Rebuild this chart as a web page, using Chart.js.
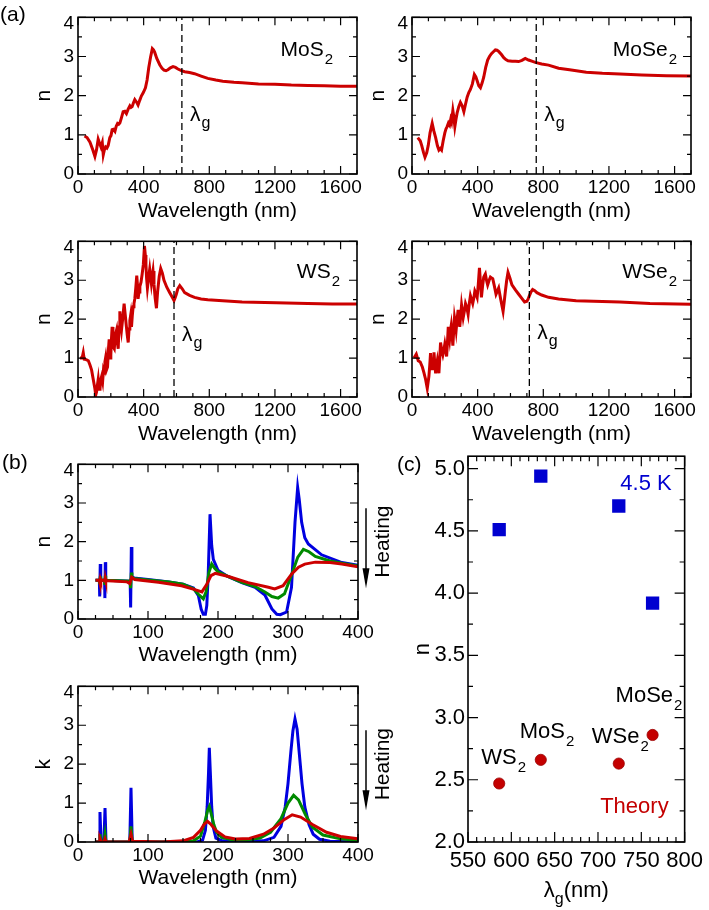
<!DOCTYPE html>
<html><head><meta charset="utf-8">
<script src="https://cdn.jsdelivr.net/npm/chart.js@4/dist/chart.umd.min.js"></script>
<style>
html,body{margin:0;padding:0;background:#fff;}
body{width:709px;height:910px;position:relative;overflow:hidden;font-family:"Liberation Sans",Arial,Helvetica,sans-serif;}
canvas{position:absolute;}
.plabel{position:absolute;font-size:21px;line-height:21px;color:#000;z-index:5;}
</style></head><body>
<div class="plabel" style="left:0px;top:3px">(a)</div>
<div class="plabel" style="left:2px;top:451px">(b)</div>
<div class="plabel" style="left:397px;top:453px">(c)</div>
<script>
// ================= DATA =================
// (a) refractive index n vs wavelength (nm)
const MOS2_WL = [40,55,73,90,103,113,123,132,140,148,154,161,168,176,184,194,201,208,216,225,233,241,248,255,265,275,285,295,305,316,323,330,338,346,356,366,376,386,398,411,421,431,442,453,460,467,480,498,512,524,536,548,563,579,594,609,630,650,680,710,750,791,840,882,950,1000,1100,1200,1300,1400,1500,1600,1700];
const MOS2_N  = [0.97,0.93,0.81,0.62,0.45,0.62,0.89,0.78,0.69,0.80,0.49,0.62,0.69,0.66,0.73,0.93,0.98,1.13,1.14,1.09,1.22,1.29,1.27,1.30,1.44,1.59,1.60,1.54,1.65,1.74,1.70,1.72,1.82,1.90,1.84,1.76,1.88,1.99,2.08,2.20,2.40,2.71,2.98,3.20,3.17,3.11,2.95,2.79,2.70,2.65,2.64,2.66,2.71,2.74,2.72,2.68,2.64,2.61,2.59,2.56,2.50,2.44,2.40,2.37,2.34,2.33,2.30,2.29,2.27,2.26,2.25,2.24,2.24];

const MOSE2_WL = [35,50,59,70,79,90,99,110,123,133,144,155,164,172,180,190,200,207,214,222,229,236,241,249,255,261,268,275,285,295,305,316,326,336,346,356,368,380,389,397,407,417,427,437,449,461,472,484,496,508,518,528,545,559,572,585,610,630,650,670,690,710,730,751,790,832,893,960,1062,1160,1267,1400,1550,1700];
const MOSE2_N  = [0.93,0.85,0.73,0.55,0.43,0.55,0.73,1.05,1.29,1.10,0.93,0.72,0.61,0.65,0.61,0.85,1.05,1.15,1.21,1.30,1.25,1.40,1.33,1.62,1.45,1.21,1.40,1.56,1.72,1.83,1.75,1.59,1.78,1.96,2.08,2.16,2.30,2.54,2.48,2.38,2.25,2.20,2.32,2.47,2.72,2.91,3.00,3.07,3.12,3.17,3.16,3.13,3.05,2.97,2.92,2.89,2.88,2.88,2.87,2.90,2.95,2.91,2.88,2.85,2.81,2.78,2.70,2.66,2.60,2.57,2.55,2.53,2.51,2.50];

const WS2_WL = [12,25,32,38,50,63,73,83,93,103,108,113,118,123,128,134,139,144,150,155,160,164,168,174,180,185,190,195,200,204,208,213,221,228,235,240,245,250,255,260,265,272,281,288,295,300,306,311,316,321,326,331,336,341,346,352,358,362,366,372,377,384,391,398,405,410,414,418,423,430,437,442,447,452,457,463,470,478,485,495,504,514,524,541,559,572,585,592,599,608,620,635,650,680,710,750,791,882,1000,1207,1400,1550,1700];
const WS2_N  = [1.00,1.00,1.14,0.97,0.96,0.93,0.82,0.69,0.45,0.21,0.05,0.13,0.30,0.45,0.20,0.21,0.45,0.53,0.40,0.68,0.61,0.90,1.00,0.70,0.77,1.20,1.48,1.00,1.08,1.50,1.80,1.30,1.24,1.60,1.72,1.40,1.24,1.80,2.20,1.90,1.72,2.00,2.40,2.10,1.80,1.60,1.40,1.75,1.96,2.10,1.80,2.10,2.32,2.40,2.52,2.80,3.12,2.90,2.52,2.70,2.84,2.95,3.16,3.40,3.88,3.65,3.40,3.05,2.80,3.05,3.28,3.10,2.92,3.10,3.24,2.90,2.55,2.28,2.70,3.10,3.30,3.18,3.00,2.82,2.68,2.58,2.48,2.55,2.64,2.78,2.86,2.78,2.68,2.61,2.56,2.52,2.50,2.47,2.44,2.42,2.40,2.39,2.39];

const WSE2_WL = [12,26,38,50,63,73,83,93,103,108,113,118,123,128,134,139,144,149,154,159,164,169,174,181,188,194,200,206,211,216,221,225,229,234,239,244,249,254,259,264,269,275,281,286,291,297,302,307,312,319,326,334,342,349,356,363,370,377,383,390,397,404,411,417,423,430,437,442,447,454,461,470,478,485,492,502,512,520,528,541,555,562,569,577,585,597,609,630,650,668,686,700,708,715,725,735,748,761,790,832,893,1000,1267,1450,1700];
const WSE2_N  = [1.00,1.10,0.93,0.90,0.77,0.62,0.45,0.22,0.53,0.80,1.13,0.90,0.69,0.90,1.15,0.85,0.61,0.80,0.93,0.75,0.61,1.00,1.40,1.20,1.08,1.20,1.36,1.20,1.04,1.40,1.80,1.60,1.48,1.70,1.84,1.60,1.32,1.70,2.04,1.90,1.72,2.00,2.24,2.00,1.80,2.10,2.36,2.20,2.04,2.20,2.40,2.30,2.12,2.40,2.60,2.50,2.40,2.55,2.72,2.65,2.56,2.90,3.32,2.95,2.56,2.85,3.08,3.12,3.16,3.00,2.88,3.00,3.08,3.06,3.04,2.85,2.64,2.72,2.80,2.50,2.20,2.45,2.72,3.00,3.20,3.05,2.88,2.75,2.64,2.54,2.44,2.46,2.52,2.60,2.70,2.76,2.73,2.68,2.62,2.56,2.52,2.47,2.44,2.40,2.38];

// band-gap wavelengths marked in (a): MoS2, MoSe2, WS2, WSe2
const A_LAMBDA_G = [633, 757, 585, 715];
const A_NAMES = ['MoS', 'MoSe', 'WS', 'WSe'];
const A_X_TICKS = [0, 400, 800, 1200, 1600];
const A_X_LABELS = ['0', '400', '800', '1200', '1600'];
const AB_Y_TICKS = [0, 1, 2, 3, 4];
const AB_Y_LABELS = ['0', '1', '2', '3', '4'];

// (b) n and k vs wavelength, three temperatures (blue = cold, green, red = hot)
const BN_BLUE_WL = [25,30.5,31,31.8,32.5,38,38.4,39,39.6,74.5,75.2,76.2,77,80,100,130,150,165,172,176,179,182,184,186,188.6,191,193.3,200,214,234,253,267,277,284,289,298,305,310,313.8,316,319.5,324,329,348,377,400];
const BN_BLUE    = [1.0,1.0,0.58,1.42,1.0,1.0,0.54,1.47,1.0,0.98,0.30,1.86,1.10,1.06,1.02,0.96,0.90,0.80,0.60,0.25,0.12,0.12,0.35,1.14,2.71,1.90,1.54,1.26,1.10,0.94,0.82,0.62,0.26,0.12,0.11,0.18,0.82,2.50,3.40,3.10,2.50,2.10,1.94,1.66,1.46,1.39];
const BN_GREEN_WL = [25,30.5,31,31.8,32.5,38,38.4,39,39.6,74.5,75.2,76.2,77,80,100,130,150,165,172,179,183,187,191,195,200,214,234,253,267,277,286,295,305,314,322,330,339,360,377,400];
const BN_GREEN    = [1.0,1.0,0.9,1.1,1.0,1.0,0.88,1.12,1.0,0.98,0.8,1.2,1.08,1.05,1.01,0.96,0.9,0.78,0.64,0.52,0.7,1.2,1.42,1.32,1.22,1.1,0.95,0.84,0.7,0.58,0.54,0.65,1.14,1.6,1.8,1.74,1.62,1.5,1.44,1.37];
const BN_RED_WL = [25,30.5,31,31.8,32.5,38,38.4,39,39.6,43,70,74,76.7,81,115,148,167,177,184,190,196,215,243,272,281,293,305,315,324,339,360,377,400];
const BN_RED    = [1.0,1.0,0.96,1.04,1.0,1.0,0.95,1.05,1.0,0.99,0.96,0.92,1.08,1.02,0.95,0.86,0.76,0.70,0.90,1.12,1.18,1.10,0.94,0.82,0.78,0.86,1.16,1.34,1.42,1.47,1.46,1.42,1.35];

const BK_BLUE_WL = [25,30,31.4,33,37,38.6,40,74,75.7,77.5,170,178,182,184.5,186.5,187.6,189,191,193,197,205,215,240,265,280,290,296,300,304,307,310,313,316,320,324,330,336,345,360,400];
const BK_BLUE    = [0,0,0.77,0,0,0.87,0,0,1.39,0,0,0.05,0.3,0.9,1.8,2.42,1.8,0.9,0.4,0.1,0.04,0.02,0.01,0.03,0.12,0.4,0.9,1.5,2.3,2.85,3.16,2.9,2.3,1.5,0.9,0.45,0.2,0.07,0.02,0];
const BK_GREEN_WL = [25,30,31.4,33,37,38.6,40,74,75.7,77.5,150,165,175,181,185,187.6,190,194,198,205,220,240,260,275,290,300,308,315,325,335,350,375,400];
const BK_GREEN    = [0,0,0.2,0,0,0.2,0,0,0.4,0,0,0.03,0.15,0.5,0.8,0.91,0.75,0.45,0.25,0.12,0.06,0.05,0.1,0.25,0.6,1.0,1.2,1.08,0.7,0.38,0.18,0.08,0.04];
const BK_RED_WL = [25,30,31.4,33,37,38.6,40,73,75.7,78,120,150,165,175,180,185,190,198,210,225,245,265,280,295,306,318,335,355,375,400];
const BK_RED    = [0,0,0.08,0,0,0.08,0,0,0.2,0.02,0,0.03,0.12,0.3,0.45,0.53,0.45,0.28,0.13,0.08,0.09,0.2,0.36,0.58,0.70,0.64,0.45,0.25,0.14,0.08];

const B_X_TICKS = [0, 100, 200, 300, 400];
const B_X_LABELS = ['0', '100', '200', '300', '400'];

// (c) n at the band gap
const C_MATERIALS = ['WS', 'MoS', 'WSe', 'MoSe'];
const C_LAMBDA_G = [586, 634, 724, 763];
const C_N_45K    = [4.51, 4.94, 4.70, 3.92];
const C_N_THEORY = [2.47, 2.66, 2.63, 2.86];
const C_X_TICKS = [550, 600, 650, 700, 750, 800];
const C_X_LABELS = ['550', '600', '650', '700', '750', '800'];
const C_Y_TICKS = [2.0, 2.5, 3.0, 3.5, 4.0, 4.5, 5.0];
const C_Y_LABELS = ['2.0', '2.5', '3.0', '3.5', '4.0', '4.5', '5.0'];

// ================= STYLE / HELPERS =================
const FONT = '"Liberation Sans", Arial, Helvetica, sans-serif';
Chart.defaults.font.family = FONT;
Chart.defaults.color = '#000';
const RED = '#cc0000', BLUE = '#0000e0', GREEN = '#008a00';

function pts(xs, ys) { const n = Math.min(xs.length, ys.length); const o = []; for (let i = 0; i < n; i++) o.push({x: xs[i], y: ys[i]}); return o; }

function makeCanvas(left, top, w, h) {
  const c = document.createElement('canvas');
  c.width = w; c.height = h;
  c.style.left = left + 'px'; c.style.top = top + 'px';
  c.style.width = w + 'px'; c.style.height = h + 'px';
  document.body.appendChild(c);
  return c;
}

function axis(o) {
  return {
    type: 'linear', min: o.min, max: o.max,
    afterBuildTicks: s => { s.ticks = o.ticks.map(v => ({value: v})); },
    afterFit: s => { if (o.horiz) s.height = o.size; else s.width = o.size; },
    grid: {display: false, drawTicks: false},
    border: {display: false},
    ticks: {
      autoSkip: false, maxRotation: 0, minRotation: 0, padding: o.pad, color: '#000',
      font: {family: FONT, size: o.fontSize, lineHeight: o.lh || 1.2},
      callback: (v, i) => (o.shiftTop && i === o.labels.length - 1) ? ['', o.labels[i]] : o.labels[i]
    },
    title: o.title ? {display: true, text: o.title, color: '#000',
      font: {family: FONT, size: o.titleSize}, padding: o.titlePad} : {display: false}
  };
}

function frameTicks(o) {
  return {
    id: 'frameTicks',
    afterDatasetsDraw(chart) {
      const {ctx, chartArea: a} = chart;
      const xs = chart.scales.x, ys = chart.scales.y;
      ctx.save();
      ctx.strokeStyle = '#000';
      ctx.lineWidth = o.tickW;
      ctx.beginPath();
      const nx = Math.floor((xs.max - xs.min) / o.xMinor + 1e-9);
      for (let i = 0; i <= nx; i++) {
        const v = xs.min + i * o.xMinor;
        const maj = o.xMajor.some(m => Math.abs(m - v) < 1e-6);
        const len = maj ? o.majLen : o.minLen;
        const p = xs.getPixelForValue(v);
        ctx.moveTo(p, a.bottom); ctx.lineTo(p, a.bottom - len);
        ctx.moveTo(p, a.top); ctx.lineTo(p, a.top + len);
      }
      const ny = Math.floor((ys.max - ys.min) / o.yMinor + 1e-9);
      for (let i = 0; i <= ny; i++) {
        const v = ys.min + i * o.yMinor;
        const maj = o.yMajor.some(m => Math.abs(m - v) < 1e-6);
        const len = maj ? o.majLen : o.minLen;
        const p = ys.getPixelForValue(v);
        ctx.moveTo(a.left, p); ctx.lineTo(a.left + len, p);
        ctx.moveTo(a.right, p); ctx.lineTo(a.right - len, p);
      }
      ctx.stroke();
      ctx.lineWidth = o.frameW;
      ctx.strokeRect(a.left, a.top, a.right - a.left, a.bottom - a.top);
      ctx.restore();
    }
  };
}

function subText(ctx, main, sub, x, y, size, subSize, subDy, align, color) {
  ctx.save();
  ctx.fillStyle = color || '#000';
  ctx.textBaseline = 'alphabetic';
  ctx.textAlign = 'left';
  ctx.font = size + 'px ' + FONT;
  const w1 = ctx.measureText(main).width;
  ctx.font = subSize + 'px ' + FONT;
  const w2 = ctx.measureText(sub).width;
  let x0 = x;
  if (align === 'right') x0 = x - w1 - w2 - 1;
  else if (align === 'center') x0 = x - (w1 + w2 + 1) / 2;
  ctx.font = size + 'px ' + FONT;
  ctx.fillText(main, x0, y);
  ctx.font = subSize + 'px ' + FONT;
  ctx.fillText(sub, x0 + w1 + 1, y + subDy);
  ctx.restore();
  return x0 + w1 + 1 + w2;
}

const BASE_OPTS = {responsive: false, animation: false, devicePixelRatio: 1, events: []};

// ================= (a) =================
const A_SERIES = [[MOS2_WL, MOS2_N], [MOSE2_WL, MOSE2_N], [WS2_WL, WS2_N], [WSE2_WL, WSE2_N]];
const A_LAYOUT = [
  {L: 78,  T: 6,   W: 279, H: 168, nameRight: 24, nameBase: 39, lgBase: 104},
  {L: 412, T: 6,   W: 279, H: 168, nameRight: 14, nameBase: 39, lgBase: 104},
  {L: 78,  T: 230, W: 279, H: 167, nameRight: 17, nameBase: 37, lgBase: 100},
  {L: 412, T: 230, W: 279, H: 167, nameRight: 14, nameBase: 37, lgBase: 98}
];
const PAD_T = 6, YW = 60, XH = 55;

A_LAYOUT.forEach((p, k) => {
  const cv = makeCanvas(p.L - YW, p.T - PAD_T, YW + p.W + 15, PAD_T + p.H + XH);
  const lg = A_LAMBDA_G[k];
  new Chart(cv, {
    type: 'line',
    data: {datasets: [
      {data: [{x: lg, y: 0}, {x: lg, y: 4}], borderColor: '#000', borderWidth: 1.3, borderDash: [7, 4], pointRadius: 0},
      {data: pts(A_SERIES[k][0], A_SERIES[k][1]), borderColor: RED, borderWidth: 3, pointRadius: 0, tension: 0}
    ]},
    options: Object.assign({}, BASE_OPTS, {
      layout: {padding: {left: 0, top: PAD_T, right: 15, bottom: 0}},
      plugins: {legend: {display: false}, tooltip: {enabled: false}},
      scales: {
        x: axis({horiz: true, size: XH, min: 0, max: 1700, ticks: A_X_TICKS, labels: A_X_LABELS, pad: 2, fontSize: 19,
                 title: 'Wavelength (nm)', titleSize: 21, titlePad: {top: 0, bottom: 5}}),
        y: axis({horiz: false, size: YW, min: 0, max: 4, ticks: AB_Y_TICKS, labels: AB_Y_LABELS, pad: 4, fontSize: 19, lh: 0.7, shiftTop: true,
                 title: 'n', titleSize: 21, titlePad: {top: 14, bottom: 0}})
      }
    }),
    plugins: [frameTicks({xMinor: 100, xMajor: A_X_TICKS, yMinor: 0.5, yMajor: AB_Y_TICKS, majLen: 8, minLen: 4, tickW: 1.2, frameW: 1.6}),
      {id: 'alabels', afterDraw(chart) {
        const {ctx, chartArea: a} = chart;
        subText(ctx, A_NAMES[k], '2', a.right - p.nameRight, a.top + p.nameBase, 21, 15, 8, 'right');
        const xl = chart.scales.x.getPixelForValue(lg) + 8;
        subText(ctx, 'λ', 'g', xl, a.top + p.lgBase, 21, 16, 7, 'left');
      }}]
  });
});

// ================= (b) =================
const B_LAYOUT = [
  {L: 78, T: 453, W: 280, H: 166, yTitle: 'n', sets: [[BN_RED_WL, BN_RED, RED], [BN_GREEN_WL, BN_GREEN, GREEN], [BN_BLUE_WL, BN_BLUE, BLUE]]},
  {L: 78, T: 675, W: 280, H: 167, yTitle: 'k', sets: [[BK_RED_WL, BK_RED, RED], [BK_GREEN_WL, BK_GREEN, GREEN], [BK_BLUE_WL, BK_BLUE, BLUE]]}
];
const HEATING_LABEL = 'Heating';
const B_PAD_R = 50;

B_LAYOUT.forEach(p => {
  const cv = makeCanvas(p.L - YW, p.T - PAD_T, YW + p.W + B_PAD_R, PAD_T + p.H + XH);
  new Chart(cv, {
    type: 'line',
    data: {datasets: p.sets.map(s => ({data: pts(s[0], s[1]), borderColor: s[2], borderWidth: 3, pointRadius: 0, tension: 0}))},
    options: Object.assign({}, BASE_OPTS, {
      layout: {padding: {left: 0, top: PAD_T, right: B_PAD_R, bottom: 0}},
      plugins: {legend: {display: false}, tooltip: {enabled: false}},
      scales: {
        x: axis({horiz: true, size: XH, min: 0, max: 400, ticks: B_X_TICKS, labels: B_X_LABELS, pad: 2, fontSize: 19,
                 title: 'Wavelength (nm)', titleSize: 21, titlePad: {top: 0, bottom: 6}}),
        y: axis({horiz: false, size: YW, min: 0, max: 4, ticks: AB_Y_TICKS, labels: AB_Y_LABELS, pad: 4, fontSize: 19, lh: 0.7, shiftTop: true,
                 title: p.yTitle, titleSize: 21, titlePad: {top: 14, bottom: 0}})
      }
    }),
    plugins: [frameTicks({xMinor: 25, xMajor: B_X_TICKS, yMinor: 0.5, yMajor: AB_Y_TICKS, majLen: 8, minLen: 4, tickW: 1.2, frameW: 1.6}),
      {id: 'heating', afterDraw(chart) {
        const {ctx, chartArea: a} = chart;
        const x = a.right + 8, y0 = a.top + 44, y1 = a.top + 124;
        ctx.save();
        ctx.strokeStyle = '#000'; ctx.fillStyle = '#000'; ctx.lineWidth = 1.5;
        ctx.beginPath(); ctx.moveTo(x, y0); ctx.lineTo(x, y1 - 16); ctx.stroke();
        ctx.beginPath(); ctx.moveTo(x - 3.5, y1 - 20); ctx.lineTo(x + 3.5, y1 - 20); ctx.lineTo(x, y1); ctx.closePath(); ctx.fill();
        ctx.translate(a.right + 31, (a.top + a.bottom) / 2);
        ctx.rotate(-Math.PI / 2);
        ctx.font = '21px ' + FONT; ctx.textAlign = 'center'; ctx.textBaseline = 'alphabetic';
        ctx.fillText(HEATING_LABEL, 0, 0);
        ctx.restore();
      }}]
  });
});

// ================= (c) =================
const C_LABEL_OFF = [[-18, -20], [-21, -22], [-27, -21], [-37, -33]];
(function () {
  const L = 468, T = 454, W = 223, H = 388, CYW = 72, CXH = 68, CT = 14, CR = 18;
  const cv = makeCanvas(L - CYW, T - CT, CYW + W + CR, CT + H + CXH);
  new Chart(cv, {
    type: 'scatter',
    data: {datasets: [
      {data: pts(C_LAMBDA_G, C_N_THEORY), pointStyle: 'circle', pointRadius: 5.6, backgroundColor: '#c40000', borderColor: '#9a0000', borderWidth: 0.8},
      {data: pts(C_LAMBDA_G, C_N_45K), pointStyle: 'rect', pointRadius: 9.4, backgroundColor: '#0000d0', borderColor: '#0000d0', borderWidth: 0}
    ]},
    options: Object.assign({}, BASE_OPTS, {
      layout: {padding: {left: 0, top: CT, right: CR, bottom: 0}},
      plugins: {legend: {display: false}, tooltip: {enabled: false}},
      scales: {
        x: axis({horiz: true, size: CXH, min: 550, max: 800, ticks: C_X_TICKS, labels: C_X_LABELS, pad: 6, fontSize: 22}),
        y: axis({horiz: false, size: CYW, min: 2.0, max: 5.1, ticks: C_Y_TICKS, labels: C_Y_LABELS, pad: 3, fontSize: 22,
                 title: 'n', titleSize: 22, titlePad: {top: 14, bottom: 0}})
      }
    }),
    plugins: [frameTicks({xMinor: 10, xMajor: C_X_TICKS, yMinor: 0.25, yMajor: C_Y_TICKS, majLen: 10, minLen: 5, tickW: 1.2, frameW: 1.6}),
      {id: 'clabels', afterDraw(chart) {
        const {ctx, chartArea: a} = chart;
        const xs = chart.scales.x, ys = chart.scales.y;
        C_MATERIALS.forEach((m, i) => {
          const px = xs.getPixelForValue(C_LAMBDA_G[i]), py = ys.getPixelForValue(C_N_THEORY[i]);
          subText(ctx, m, '2', px + C_LABEL_OFF[i][0], py + C_LABEL_OFF[i][1], 22, 15, 8, 'left');
        });
        ctx.save();
        ctx.font = '22px ' + FONT; ctx.textAlign = 'right'; ctx.textBaseline = 'alphabetic';
        ctx.fillStyle = '#0000d0'; ctx.fillText('4.5 K', a.right - 13, a.top + 34);
        ctx.fillStyle = '#c40000'; ctx.fillText('Theory', a.right - 16, a.bottom - 29);
        ctx.restore();
        // x-axis title λg(nm)
        ctx.save();
        ctx.fillStyle = '#000'; ctx.textBaseline = 'alphabetic'; ctx.textAlign = 'left';
        ctx.font = '22px ' + FONT; const w1 = ctx.measureText('λ').width, w3 = ctx.measureText('(nm)').width;
        ctx.font = '16px ' + FONT; const w2 = ctx.measureText('g').width;
        const x0 = (a.left + a.right) / 2 - (w1 + w2 + w3) / 2, yb = a.bottom + 55;
        ctx.font = '22px ' + FONT; ctx.fillText('λ', x0, yb);
        ctx.font = '16px ' + FONT; ctx.fillText('g', x0 + w1, yb + 7);
        ctx.font = '22px ' + FONT; ctx.fillText('(nm)', x0 + w1 + w2, yb);
        ctx.restore();
      }}]
  });
})();
</script>
</body></html>
